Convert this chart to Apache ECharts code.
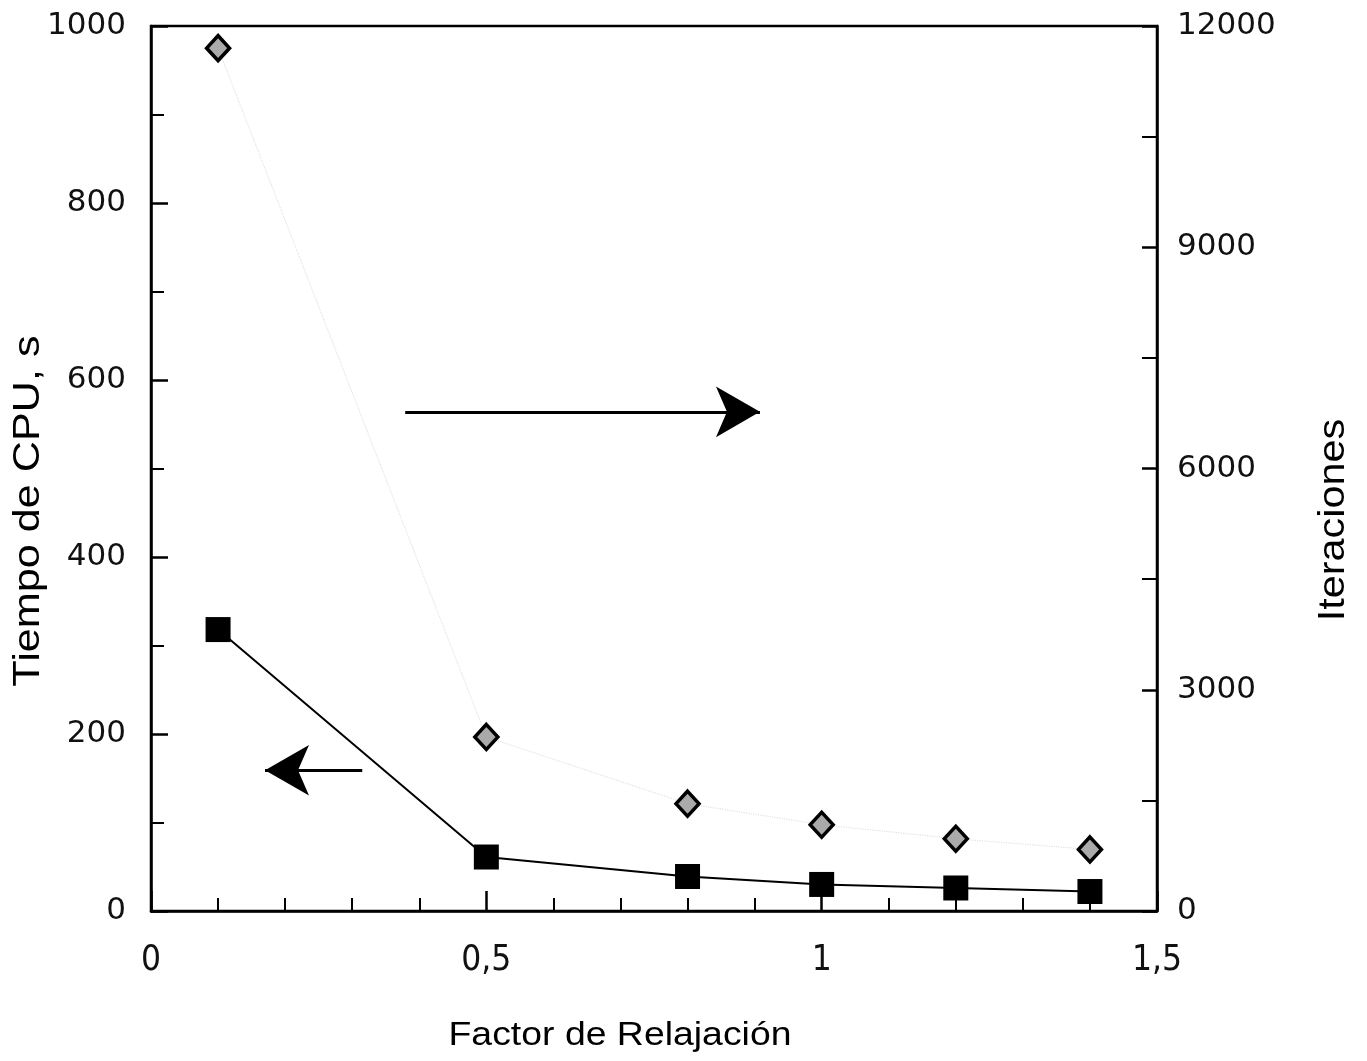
<!DOCTYPE html>
<html>
<head>
<meta charset="utf-8">
<script src="https://cdn.jsdelivr.net/npm/echarts@6/dist/echarts.min.js"></script>
<style>html,body{margin:0;padding:0;background:#fff;}#c{width:1367px;height:1061px;}</style>
</head>
<body>
<div id="c"></div>
<script>
// Data
const relaxFactor = [0.1, 0.5, 0.8, 1.0, 1.2, 1.4];
const cpuTime = [318, 61, 39, 30, 26, 22];              // Tiempo de CPU, s (left axis)
const iterations = [11700, 2360, 1455, 1170, 980, 835]; // Iteraciones (right axis)
const xTicks = [0, 0.5, 1, 1.5];
const leftTicks = [0, 200, 400, 600, 800, 1000];
const rightTicks = [0, 3000, 6000, 9000, 12000];
// Annotation arrows (data coordinates on left axis)
const arrowRight = [[0.379, 564], [0.908, 564]];
const arrowLeft = [[0.315, 159], [0.170, 159]];

const chart = echarts.init(document.getElementById('c'));
const tickFont = { fontFamily: "'DejaVu Sans', sans-serif", fontSize: 31, color: '#111' };
const fmtComma = v => String(v).replace('.', ',');
const fmtPlain = v => String(v);

chart.setOption({
  backgroundColor: '#fff',
  animation: false,
  grid: { left: 151, right: 210, top: 26, bottom: 150, show: true, borderColor: '#000', borderWidth: 2.5, backgroundColor: 'transparent' },
  xAxis: {
    type: 'value', min: xTicks[0], max: xTicks[xTicks.length - 1], interval: 0.5,
    axisLine: { lineStyle: { color: '#000', width: 2.5 } },
    axisTick: { inside: true, length: 20, lineStyle: { color: '#000', width: 2.5 } },
    minorTick: { show: true, splitNumber: 5, length: 13, lineStyle: { color: '#000', width: 2 } },
    splitLine: { show: false },
    axisLabel: { margin: 32, formatter: fmtComma, fontFamily: "'Liberation Sans Narrow', 'DejaVu Sans Condensed', sans-serif", fontSize: 35, color: '#111' }
  },
  yAxis: [
    {
      type: 'value', min: leftTicks[0], max: leftTicks[leftTicks.length - 1], interval: 200,
      axisLine: { show: true, lineStyle: { color: '#000', width: 2.5 } },
      axisTick: { inside: true, length: 17, lineStyle: { color: '#000', width: 2.5 } },
      minorTick: { show: true, splitNumber: 2, length: 13, lineStyle: { color: '#000', width: 2 } },
      splitLine: { show: false },
      axisLabel: Object.assign({ margin: 25, formatter: fmtPlain }, tickFont)
    },
    {
      type: 'value', min: rightTicks[0], max: rightTicks[rightTicks.length - 1], interval: 3000,
      position: 'right',
      axisLine: { show: true, lineStyle: { color: '#000', width: 2.5 } },
      axisTick: { inside: true, length: 15, lineStyle: { color: '#000', width: 2.5 } },
      minorTick: { show: true, splitNumber: 2, length: 15, lineStyle: { color: '#000', width: 2 } },
      splitLine: { show: false },
      axisLabel: Object.assign({ margin: 20, formatter: fmtPlain }, tickFont)
    }
  ],
  graphic: [
    { type: 'text', x: 620, y: 1036, scaleX: 1.1, style: { text: 'Factor de Relajación', font: '34px "Liberation Sans", Arial, sans-serif', fill: '#000', textAlign: 'center', textVerticalAlign: 'middle' } },
    { type: 'text', rotation: Math.PI / 2, x: 29, y: 511, scaleX: 1.2, style: { text: 'Tiempo de CPU, s', font: '36px "Liberation Sans", Arial, sans-serif', fill: '#000', textAlign: 'center', textVerticalAlign: 'middle' } },
    { type: 'text', rotation: Math.PI / 2, x: 1334, y: 520, scaleX: 1.15, style: { text: 'Iteraciones', font: '36px "Liberation Sans", Arial, sans-serif', fill: '#000', textAlign: 'center', textVerticalAlign: 'middle' } }
  ],
  series: [
    {
      name: 'Iteraciones', type: 'line', yAxisIndex: 1,
      data: relaxFactor.map((x, i) => [x, iterations[i]]),
      smooth: false,
      symbol: 'diamond', symbolSize: [23, 25],
      itemStyle: { color: '#aaa', borderColor: '#000', borderWidth: 3.5 },
      lineStyle: { color: '#e2e2e2', width: 1.2, type: 'dotted' },
      z: 3
    },
    {
      name: 'Tiempo de CPU', type: 'line', yAxisIndex: 0,
      data: relaxFactor.map((x, i) => [x, cpuTime[i]]),
      symbol: 'rect', symbolSize: 25,
      itemStyle: { color: '#000', borderWidth: 0 },
      lineStyle: { color: '#000', width: 2 },
      z: 4,
      markLine: {
        silent: true, animation: false,
        symbol: ['none', 'arrow'], symbolSize: [38, 44],
        label: { show: false },
        lineStyle: { color: '#000', width: 3, type: 'solid' },
        data: [
          [{ coord: arrowRight[0] }, { coord: arrowRight[1] }],
          [{ coord: arrowLeft[0] }, { coord: arrowLeft[1] }]
        ]
      }
    }
  ]
});
</script>
</body>
</html>
